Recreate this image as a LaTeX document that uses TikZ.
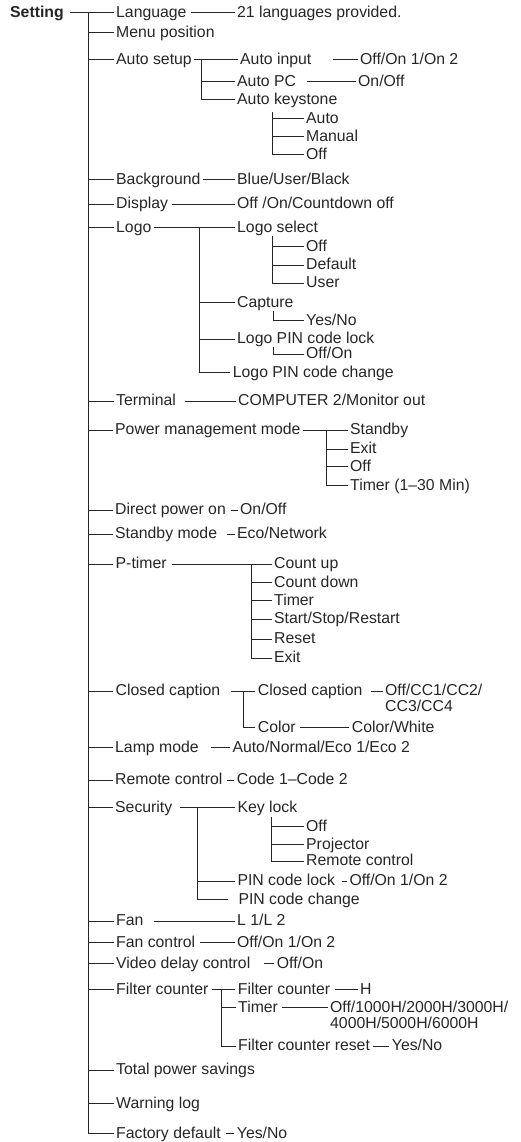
\documentclass[tikz,border=0pt]{standalone}
\usepackage{fontspec}
\setmainfont{Liberation Sans}
\usepackage{tikz}
\usetikzlibrary{positioning, calc}
\definecolor{ink}{HTML}{262626}

\begin{document}
\begin{tikzpicture}[x=1pt, y=-1pt,
    item/.style={anchor=west, inner xsep=2.5pt, inner ysep=0pt, text height=9.5pt, text depth=0pt, text=ink, font=\fontsize{15.8}{18}\selectfont},
    head/.style={item, font=\fontsize{15.8}{18}\selectfont\bfseries},
    link/.style={draw=ink, line width=1pt}]
    \useasboundingbox (0,0) rectangle (520,1142);
    % top level
    \node[head] (setting) at (7.5,12.7) {Setting};
    \node[item] (lang) at (113.5,12.7) {Language};
    \node[item] (menu) at (113.5,32.7) {Menu position};
    \node[item] (autoset) at (113.5,59.3) {Auto setup};
    \node[item] (bg) at (113.5,180) {Background};
    \node[item] (disp) at (113.5,204) {Display};
    \node[item] (logo) at (113.5,227.7) {Logo};
    \node[item] (term) at (113.5,401) {Terminal};
    \node[item] (power) at (112.5,430) {Power management mode};
    \node[item] (direct) at (112.5,510) {Direct power on};
    \node[item] (stby) at (112.5,534) {Standby mode};
    \node[item] (ptimer) at (113,564) {P-timer};
    \node[item] (closed) at (113,691) {Closed caption};
    \node[item] (lamp) at (112.5,747.7) {Lamp mode};
    \node[item] (remote) at (112.5,780) {Remote control};
    \node[item] (secur) at (112.5,807.7) {Security};
    \node[item] (fan) at (113.5,921) {Fan};
    \node[item] (fanctl) at (113.5,942.3) {Fan control};
    \node[item] (video) at (113.5,963.3) {Video delay control};
    \node[item] (filter) at (113.5,989.3) {Filter counter};
    \node[item] (total) at (113.5,1070) {Total power savings};
    \node[item] (warn) at (113.5,1103.3) {Warning log};
    \node[item] (factory) at (113.5,1133.3) {Factory default};
    \coordinate (trunk) at (88.7,12.7);
    \draw[link] ([xshift=3.5pt]setting.east) -- (lang.west);
    \draw[link] (trunk) |- (factory.west);
    \draw[link] (trunk |- menu.west) -- (menu.west)
        (trunk |- autoset.west) -- (autoset.west)
        (trunk |- bg.west) -- (bg.west)
        (trunk |- disp.west) -- (disp.west)
        (trunk |- logo.west) -- (logo.west)
        (trunk |- term.west) -- (term.west)
        (trunk |- power.west) -- (power.west)
        (trunk |- direct.west) -- (direct.west)
        (trunk |- stby.west) -- (stby.west)
        (trunk |- ptimer.west) -- (ptimer.west)
        (trunk |- closed.west) -- (closed.west)
        (trunk |- lamp.west) -- (lamp.west)
        (trunk |- remote.west) -- (remote.west)
        (trunk |- secur.west) -- (secur.west)
        (trunk |- fan.west) -- (fan.west)
        (trunk |- fanctl.west) -- (fanctl.west)
        (trunk |- video.west) -- (video.west)
        (trunk |- filter.west) -- (filter.west)
        (trunk |- total.west) -- (total.west)
        (trunk |- warn.west) -- (warn.west);

    % language
    \node[item] (langv) at (234.5,12.7) {21 languages provided.};
    \draw[link] ([xshift=1.5pt]lang.east) -- (langv.west);

    % auto setup
    \node[item] (autoin) at (237.5,59.3) {Auto input};
    \node[item] (autoinv) at (357.5,59.3) {Off/On 1/On 2};
    \node[item] (autopc) at (234.5,81.7) {Auto PC};
    \node[item] (autopcv) at (355.5,81.7) {On/Off};
    \node[item] (autokey) at (234.5,100) {Auto keystone};
    \node[item] (keyauto) at (303.5,119) {Auto};
    \node[item] (keyman) at (303.5,137) {Manual};
    \node[item] (keyoff) at (303.5,155) {Off};
    \coordinate (autosp) at (201,59.3);
    \coordinate (keysp) at (272.7,112);
    \draw[link] (autoset.east) -- (autoin.west);
    \draw[link] (autosp) |- (autokey.west);
    \draw[link] (autosp |- autopc.west) -- (autopc.west);
    \draw[link] ([xshift=19pt]autoin.east) -- (autoinv.west);
    \draw[link] ([xshift=8.5pt]autopc.east) -- (autopcv.west);
    \draw[link] (keysp) |- (keyoff.west);
    \draw[link] (keysp |- keyauto.west) -- (keyauto.west)
        (keysp |- keyman.west) -- (keyman.west);

    % background, display
    \node[item] (bgv) at (234.5,180) {Blue/User/Black};
    \node[item] (dispv) at (234.5,204) {Off /On/Countdown off};
    \draw[link] (bg.east) -- (bgv.west);
    \draw[link] ([xshift=1.5pt]disp.east) -- (dispv.west);

    % logo
    \node[item] (logosel) at (234.5,227.7) {Logo select};
    \node[item] (seloff) at (303.5,246.7) {Off};
    \node[item] (seldef) at (303.5,265) {Default};
    \node[item] (seluser) at (303.5,283) {User};
    \node[item] (capt) at (234.5,302.7) {Capture};
    \node[item] (captv) at (303.5,320.7) {Yes/No};
    \node[item] (lpin) at (234.5,339) {Logo PIN code lock};
    \node[item] (lpinv) at (303.5,354) {Off/On};
    \node[item] (lpchg) at (230.2,372.7) {Logo PIN code change};
    \coordinate (logosp) at (199,227.7);
    \coordinate (selsp) at (272.7,236);
    \coordinate (captsp) at (273,310.7);
    \coordinate (lpinsp) at (273,347);
    \draw[link] (logo.east) -- (logosel.west);
    \draw[link] (logosp) |- (lpchg.west);
    \draw[link] (logosp |- capt.west) -- (capt.west)
        (logosp |- lpin.west) -- (lpin.west);
    \draw[link] (selsp) |- (seluser.west);
    \draw[link] (selsp |- seloff.west) -- (seloff.west)
        (selsp |- seldef.west) -- (seldef.west);
    \draw[link] (captsp) |- (captv.west);
    \draw[link] (lpinsp) |- (lpinv.west);

    % terminal, power management
    \node[item] (termv) at (235.5,401) {COMPUTER 2/Monitor out};
    \draw[link] ([xshift=6.5pt]term.east) -- (termv.west);
    \node[item] (pstand) at (347.5,430) {Standby};
    \node[item] (pexit) at (347.5,449) {Exit};
    \node[item] (poff) at (347.5,466.7) {Off};
    \node[item] (ptime) at (347.5,485.7) {Timer (1–30 Min)};
    \coordinate (powsp) at (326.7,430);
    \draw[link] (power.east) -- (pstand.west);
    \draw[link] (powsp) |- (ptime.west);
    \draw[link] (powsp |- pexit.west) -- (pexit.west)
        (powsp |- poff.west) -- (poff.west);

    % direct power on, standby mode
    \node[item] (directv) at (237.5,510) {On/Off};
    \node[item] (stbyv) at (234.5,534) {Eco/Network};
    \draw[link] ([xshift=2pt]direct.east) -- (directv.west);
    \draw[link] ([xshift=7.5pt]stby.east) -- (stbyv.west);

    % p-timer
    \node[item] (cup) at (271.5,564) {Count up};
    \node[item] (cdown) at (271.5,582.3) {Count down};
    \node[item] (ctimer) at (271.5,600.7) {Timer};
    \node[item] (cstart) at (271.5,619) {Start/Stop/Restart};
    \node[item] (creset) at (271.5,639) {Reset};
    \node[item] (cexit) at (271.5,658) {Exit};
    \coordinate (ptsp) at (251.7,564);
    \draw[link] ([xshift=2.5pt]ptimer.east) -- (cup.west);
    \draw[link] (ptsp) |- (cexit.west);
    \draw[link] (ptsp |- cdown.west) -- (cdown.west)
        (ptsp |- ctimer.west) -- (ctimer.west)
        (ptsp |- cstart.west) -- (cstart.west)
        (ptsp |- creset.west) -- (creset.west);

    % closed caption
    \node[item] (ccsub) at (255.2,691) {Closed caption};
    \node[item] (ccv) at (382.5,691) {Off/CC1/CC2/};
    \node[item] (ccvb) at (382.5,706.7) {CC3/CC4};
    \node[item] (color) at (255.2,727.3) {Color};
    \node[item] (colorv) at (349.2,727.3) {Color/White};
    \coordinate (ccsp) at (243,691);
    \draw[link] ([xshift=8pt]closed.east) -- (ccsub.west);
    \draw[link] (ccsp) |- (color.west);
    \draw[link] ([xshift=6pt]ccsub.east) -- (ccv.west);
    \draw[link] ([xshift=1.5pt]color.east) -- (colorv.west);

    % lamp mode, remote control
    \node[item] (lampv) at (229.8,747.7) {Auto/Normal/Eco 1/Eco 2};
    \node[item] (remotev) at (234.2,780) {Code 1–Code 2};
    \draw[link] ([xshift=9.5pt]lamp.east) -- (lampv.west);
    \draw[link] ([xshift=1.5pt]remote.east) -- (remotev.west);

    % security
    \node[item] (keylock) at (234.8,807.7) {Key lock};
    \node[item] (kloff) at (303.5,826.7) {Off};
    \node[item] (klproj) at (303.5,844.3) {Projector};
    \node[item] (klrem) at (303.5,861) {Remote control};
    \node[item] (pinlock) at (234.8,881) {PIN code lock};
    \node[item] (pinlockv) at (346.8,881) {Off/On 1/On 2};
    \node[item] (pinchg) at (235.8,899.3) {PIN code change};
    \coordinate (secsp) at (197.3,807.7);
    \coordinate (klsp) at (271.7,816.7);
    \draw[link] ([xshift=5.5pt]secur.east) -- (keylock.west);
    \draw[link] (secsp) |- ([xshift=-7.5pt]pinchg.west);
    \draw[link] (secsp |- pinlock.west) -- (pinlock.west);
    \draw[link] (klsp) |- (klrem.west);
    \draw[link] (klsp |- kloff.west) -- (kloff.west)
        (klsp |- klproj.west) -- (klproj.west);
    \draw[link] ([xshift=4.5pt]pinlock.east) -- (pinlockv.west);

    % fan, fan control, video delay
    \node[item] (fanv) at (234.5,921) {L 1/L 2};
    \node[item] (fanctlv) at (234.5,942.3) {Off/On 1/On 2};
    \node[item] (videov) at (274.2,963.3) {Off/On};
    \draw[link] ([xshift=7.5pt]fan.east) -- (fanv.west);
    \draw[link] ([xshift=2.5pt]fanctl.east) -- (fanctlv.west);
    \draw[link] ([xshift=10.5pt]video.east) -- (videov.west);

    % filter counter
    \node[item] (fcsub) at (235.2,989.3) {Filter counter};
    \node[item] (fcv) at (357.5,989.3) {H};
    \node[item] (ftimer) at (235.5,1007.7) {Timer};
    \node[item] (ftimerv) at (327.5,1007.7) {Off/1000H/2000H/3000H/};
    \node[item] (ftimervb) at (327.5,1023.3) {4000H/5000H/6000H};
    \node[item] (fcreset) at (235.5,1046) {Filter counter reset};
    \node[item] (fcresetv) at (389.2,1046) {Yes/No};
    \coordinate (fcsp) at (221.7,989.3);
    \draw[link] ([xshift=1pt]filter.east) -- (fcsub.west);
    \draw[link] (fcsp) |- (fcreset.west);
    \draw[link] (fcsp |- ftimer.west) -- (ftimer.west);
    \draw[link] ([xshift=2pt]fcsub.east) -- (fcv.west);
    \draw[link] ([xshift=1.5pt]ftimer.east) -- (ftimerv.west);
    \draw[link] (fcreset.east) -- (fcresetv.west);

    % factory default
    \node[item] (factoryv) at (234.2,1133.3) {Yes/No};
    \draw[link] ([xshift=3pt]factory.east) -- (factoryv.west);
\end{tikzpicture}
\end{document}
